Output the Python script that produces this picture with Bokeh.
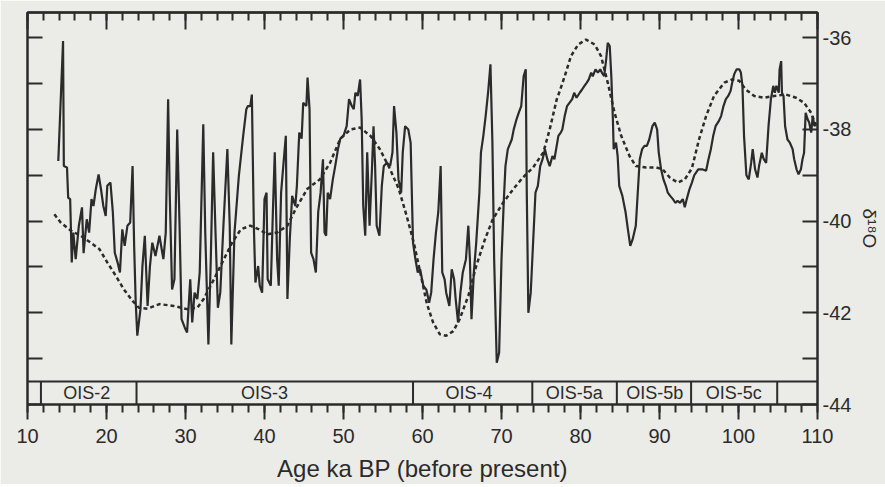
import math
from bokeh.plotting import figure
from bokeh.models import LinearAxis, FixedTicker, ColumnDataSource
from bokeh.core.properties import value
from bokeh.embed import file_html
from bokeh.resources import INLINE

# ---------------- data ----------------
age = [13.9, 14.5, 14.6, 15.0, 15.15, 15.4, 15.6, 15.8, 16.1, 16.5, 16.9, 17.1, 17.5, 17.8, 18.1, 18.35,
       18.65, 19.0, 19.3, 19.6, 19.9, 20.1, 20.5, 20.8, 21.05, 21.4, 21.7, 22.0, 22.3, 22.65, 23.0, 23.3,
       23.5, 23.7, 23.9, 24.3, 24.55, 24.85, 25.2, 25.5, 25.8, 26.2, 26.7, 27.2, 27.5, 27.8, 28.0, 28.3,
       28.6, 28.95, 29.25, 29.5, 29.9, 30.2, 30.6, 30.85, 31.15, 31.5, 31.8, 32.25, 32.5, 32.9, 33.2, 33.5,
       33.8, 34.1, 34.4, 34.8, 35.3, 35.6, 35.8, 36.2, 36.76, 37.3, 37.7, 37.9, 38.2, 38.4, 38.65, 38.85,
       39.2, 39.4, 39.7, 40.0, 40.26, 40.4, 40.8, 41.06, 41.3, 41.6, 41.8, 42.1, 42.45, 42.7, 42.9, 43.2,
       43.5, 43.9, 44.1, 44.4, 44.7, 44.9, 45.3, 45.45, 45.7, 45.9, 46.2, 46.5, 46.8, 47.1, 47.4, 47.6,
       47.8, 48.0, 48.3, 48.65, 48.95, 49.3, 49.6, 50.0, 50.4, 50.7, 51.05, 51.3, 51.5, 51.8, 52.1, 52.3,
       52.5, 52.75, 53.0, 53.3, 53.6, 53.8, 54.0, 54.2, 54.55, 54.85, 55.1, 55.5, 55.9, 56.2, 56.4, 56.7,
       56.96, 57.3, 57.5, 57.8, 58.2, 58.5, 58.8, 59.1, 59.4, 59.7, 60.1, 60.5, 60.84, 61.1, 61.4, 61.7,
       62.0, 62.3, 62.5, 62.8, 63.0, 63.4, 63.7, 64.0, 64.2, 64.5, 64.8, 65.1, 65.5, 65.8, 66.0, 66.2,
       66.5, 66.8, 67.2, 67.4, 67.7, 68.0, 68.3, 68.6, 68.85, 69.07, 69.4, 69.7, 70.0, 70.3, 70.5, 70.8,
       71.3, 71.55, 71.9, 72.2, 72.5, 72.8, 73.07, 73.2, 73.4, 73.7, 74.0, 74.3, 74.6, 74.9, 75.2, 75.5,
       75.8, 76.1, 76.45, 76.7, 77.2, 77.5, 77.7, 78.0, 78.3, 78.6, 78.95, 79.2, 79.5, 79.9, 80.2, 80.5,
       80.8, 81.05, 81.35, 81.55, 81.9, 82.2, 82.5, 82.7, 83.0, 83.25, 83.45, 83.7, 83.9, 84.1, 84.2, 84.5,
       84.7, 84.9, 85.3, 85.7, 86.0, 86.3, 86.6, 87.0, 87.3, 87.5, 87.8, 88.1, 88.4, 88.7, 89.1, 89.4,
       89.7, 89.9, 90.2, 90.5, 90.8, 91.05, 91.35, 91.7, 92.0, 92.3, 92.6, 92.95, 93.2, 93.45, 93.8, 94.1,
       94.4, 94.9, 95.4, 95.9, 96.2, 96.5, 96.8, 97.1, 97.5, 97.8, 98.1, 98.4, 98.7, 99.0, 99.2, 99.45,
       99.75, 100.1, 100.3, 100.5, 100.7, 101.0, 101.3, 101.6, 101.8, 102.1, 102.4, 102.6, 102.95, 103.2, 103.5, 103.8,
       104.1, 104.4, 104.6, 104.8, 105.1, 105.2, 105.4, 105.5, 105.7, 105.9, 106.2, 106.5, 106.85, 107.05, 107.35, 107.6,
       107.9, 108.1, 108.3, 108.5, 108.75, 108.95, 109.2, 109.4, 109.6, 109.8]
d18o = [-38.69, -36.07, -38.8, -38.83, -39.49, -39.52, -40.9, -40.25, -40.83, -40.1, -39.7, -40.7, -39.96, -40.25, -39.52, -39.67,
        -39.3, -38.98, -39.3, -39.67, -39.89, -39.23, -39.16, -39.8, -40.69, -40.9, -41.12, -40.18, -40.54, -40.1, -40.03, -38.8,
        -40.54, -41.78, -42.5, -41.92, -40.98, -40.32, -41.85, -40.98, -40.47, -40.76, -40.32, -40.83, -40.25, -37.34, -39.38, -41.49,
        -41.27, -38.0, -40.1, -42.14, -42.32, -42.43, -41.27, -42.21, -41.56, -41.7, -41.12, -37.89, -40.25, -42.69, -40.83, -38.5,
        -40.25, -41.89, -41.56, -40.1, -38.43, -40.1, -42.69, -40.25, -39.0, -38.14, -37.56, -37.49, -37.49, -37.24, -40.1, -41.34,
        -40.98, -41.41, -41.56, -39.52, -39.38, -41.27, -41.41, -39.8, -38.5, -40.83, -41.41, -39.38, -38.65, -38.14, -41.7, -40.4,
        -39.45, -39.67, -39.23, -38.07, -38.2, -37.42, -37.49, -36.87, -37.56, -40.69, -40.83, -41.12, -39.8, -39.38, -38.65, -40.25,
        -40.32, -39.38, -39.52, -39.09, -38.8, -38.43, -38.2, -38.14, -37.93, -37.34, -37.49, -37.56, -37.2, -37.27, -36.91, -37.78,
        -39.67, -40.32, -38.5, -40.1, -38.87, -37.93, -38.8, -40.1, -40.32, -39.23, -38.8, -38.73, -38.8, -38.5, -37.49, -38.07,
        -39.09, -39.38, -38.5, -37.93, -38.0, -38.29, -40.47, -40.83, -41.12, -41.05, -41.41, -41.5, -41.78, -41.56, -40.83, -40.25,
        -39.8, -38.8, -41.12, -41.27, -41.56, -41.85, -41.05, -41.27, -41.7, -42.21, -41.56, -41.12, -40.83, -40.1, -40.83, -42.14,
        -41.12, -40.47, -39.38, -38.5, -38.14, -37.7, -37.2, -36.58, -38.29, -40.83, -43.09, -42.87, -40.83, -39.52, -38.8, -38.43,
        -38.22, -38.0, -37.78, -37.63, -37.49, -36.84, -36.69, -39.38, -42.0, -41.56, -40.47, -39.38, -39.23, -38.8, -38.65, -38.43,
        -38.65, -38.8, -38.58, -38.65, -38.14, -38.07, -38.0, -37.71, -37.49, -37.42, -37.34, -37.2, -37.31, -37.2, -37.13, -37.05,
        -36.98, -36.91, -36.76, -36.84, -36.69, -36.76, -36.69, -36.76, -36.84, -36.47, -36.11, -36.18, -36.84, -37.78, -38.43, -38.29,
        -38.58, -39.23, -39.45, -39.8, -40.18, -40.54, -40.4, -40.1, -39.23, -38.65, -38.43, -38.36, -38.36, -38.22, -37.93, -37.85,
        -38.0, -38.5, -38.87, -39.09, -39.23, -39.38, -39.45, -39.52, -39.6, -39.56, -39.6, -39.52, -39.7, -39.52, -39.3, -39.16,
        -39.0, -38.87, -38.87, -38.9, -38.65, -38.43, -38.14, -37.93, -37.82, -37.71, -37.49, -37.34, -37.27, -37.16, -36.98, -36.8,
        -36.69, -36.69, -36.76, -37.05, -38.14, -39.0, -39.09, -38.73, -38.43, -38.87, -39.05, -38.8, -38.51, -38.65, -38.73, -37.93,
        -37.34, -37.05, -37.2, -37.05, -37.2, -36.69, -36.51, -37.2, -37.27, -37.93, -38.22, -38.29, -38.43, -38.65, -38.87, -38.98,
        -38.87, -38.65, -38.51, -37.64, -37.78, -37.85, -38.07, -37.71, -37.93, -37.85]

smooth_age = [13.4, 14.2, 15.5, 16.75, 18.0, 19.1, 20.1, 21.2, 22.2, 23.3, 24.1, 25.2, 26.7, 28.5, 30.2, 31.5,
              32.3, 33.6, 34.86, 35.9, 37.0, 38.2, 39.3, 40.35, 41.6, 42.9, 43.9, 45.4, 47.0, 48.3, 49.6, 50.9,
              52.1, 53.4, 54.6, 55.9, 57.0, 58.0, 58.9, 59.9, 60.55, 61.34, 62.2, 63.0, 63.9, 64.7, 65.8, 66.8,
              67.9, 68.9, 70.2, 71.5, 72.7, 74.0, 75.3, 76.1, 77.0, 77.4, 78.0, 78.8, 79.7, 80.7, 81.8, 82.6,
              83.45, 84.3, 85.15, 86.2, 87.0, 88.3, 89.6, 90.4, 91.3, 92.3, 93.2, 94.1, 95.0, 95.9, 96.9, 98.2,
              99.2, 100.1, 100.9, 102.0, 103.25, 104.5, 106.0, 107.3, 108.3, 109.2, 109.8]
smooth_val = [-39.85, -40.03, -40.21, -40.32, -40.47, -40.61, -40.9, -41.2, -41.49, -41.74, -41.89, -41.91, -41.81, -41.85, -41.92, -41.89,
              -41.7, -41.27, -40.83, -40.47, -40.18, -40.1, -40.18, -40.29, -40.25, -40.1, -39.75, -39.3, -39.09, -38.73, -38.2, -38.0,
              -37.96, -38.14, -38.43, -38.87, -39.3, -39.89, -40.47, -41.27, -41.8, -42.21, -42.47, -42.5, -42.4, -42.14, -41.63, -40.98,
              -40.4, -39.96, -39.6, -39.3, -39.05, -38.83, -38.5, -38.0, -37.34, -37.15, -36.84, -36.4, -36.15, -36.04, -36.15, -36.4,
              -36.98, -37.63, -38.14, -38.58, -38.8, -38.83, -38.83, -38.87, -39.05, -39.16, -39.09, -38.85, -38.22, -37.71, -37.27, -36.98,
              -36.91, -36.94, -37.13, -37.27, -37.31, -37.27, -37.24, -37.31, -37.42, -37.64, -37.93]

ois_bounds = [11.7, 23.8, 58.8, 73.9, 84.6, 94.0, 104.9]
ois_labels = ["OIS-2", "OIS-3", "OIS-4", "OIS-5a", "OIS-5b", "OIS-5c"]
ois_label_x = [17.5, 40.0, 65.9, 79.2, 89.4, 99.4]
band_top = -43.5
band_bottom = -44.0

x_major = [10, 20, 30, 40, 50, 60, 70, 80, 90, 100, 110]
x_minor = list(range(10, 111, 2))
y_major = [-44, -42, -40, -38, -36]
y_minor = [-43, -41, -39, -37]
y_all = [-44, -43, -42, -41, -40, -39, -38, -37, -36]

# ---------------- style ----------------
DARK = "#2b2b2b"
BG = "#ebebe8"
FONT = "Liberation Sans"

p = figure(frame_width=790, frame_height=392, x_range=(10, 110), y_range=(-44, -35.45),
           output_backend="svg", toolbar_location=None,
           x_axis_location=None, y_axis_location=None,
           min_border_left=27, min_border_top=12, min_border_right=0, min_border_bottom=0)
p.background_fill_color = BG
p.border_fill_color = BG
p.outline_line_color = DARK
p.outline_line_width = 2
p.xgrid.visible = False
p.ygrid.visible = False


def base(ax):
    ax.axis_line_color = DARK
    ax.axis_line_width = 2
    ax.major_tick_line_color = DARK
    ax.major_tick_line_width = 2
    ax.minor_tick_line_color = DARK
    ax.minor_tick_line_width = 2
    ax.major_label_text_font = FONT
    ax.major_label_text_color = DARK
    ax.axis_label_text_font = FONT
    ax.axis_label_text_color = DARK
    ax.axis_label_text_font_style = "normal"


def bare(ax, ticks, tick_in):
    # an axis with only (unlabelled) minor ticks pointing into the frame
    ax.ticker = FixedTicker(ticks=[], minor_ticks=ticks)
    base(ax)
    ax.major_tick_in = 0
    ax.major_tick_out = 0
    ax.minor_tick_in = tick_in
    ax.minor_tick_out = 0
    ax.major_label_standoff = 0


below = LinearAxis(ticker=FixedTicker(ticks=x_major, minor_ticks=x_minor))
base(below)
below.major_tick_in = 0
below.major_tick_out = 15
below.minor_tick_in = 0
below.minor_tick_out = 8
below.major_label_text_font_size = "20px"
below.major_label_standoff = 9
below.axis_label = "Age ka BP (before present)"
below.axis_label_text_font_size = "24px"
below.axis_label_standoff = 9
p.add_layout(below, "below")

above_minor = LinearAxis()
bare(above_minor, x_minor, 8)
p.add_layout(above_minor, "above")
above_major = LinearAxis()
bare(above_major, x_major, 17)
p.add_layout(above_major, "above")

left = LinearAxis()
bare(left, y_all, 15)
p.add_layout(left, "left")

right = LinearAxis(ticker=FixedTicker(ticks=y_major, minor_ticks=y_minor))
base(right)
right.major_tick_in = 15
right.major_tick_out = 0
right.minor_tick_in = 15
right.minor_tick_out = 0
right.major_label_text_font_size = "20px"
right.major_label_standoff = 5
right.major_label_overrides = {t: str(t) for t in y_major}
right.axis_label = "δ¹⁸O"
right.axis_label_text_font_size = "19px"
right.axis_label_standoff = 15
right.axis_label_orientation = -math.pi / 2
p.add_layout(right, "right")

# data lines
p.line(smooth_age, smooth_val, line_color=DARK, line_width=2.5, line_dash="4 3")
p.line(age, d18o, line_color=DARK, line_width=2.2)

# OIS band
p.segment(x0=[x_major[0]], y0=[band_top], x1=[x_major[-1]], y1=[band_top], line_color=DARK, line_width=2)
p.segment(x0=ois_bounds, y0=[band_bottom] * len(ois_bounds), x1=ois_bounds, y1=[band_top] * len(ois_bounds),
          line_color=DARK, line_width=2)
src = ColumnDataSource(dict(x=ois_label_x, y=[(band_top + band_bottom) / 2] * len(ois_label_x), t=ois_labels))
p.text(x="x", y="y", text="t", source=src, text_font=value(FONT), text_font_size="18px",
       text_align="center", text_baseline="middle", text_color=DARK)

open("out.html", "w").write(file_html(p, INLINE))
